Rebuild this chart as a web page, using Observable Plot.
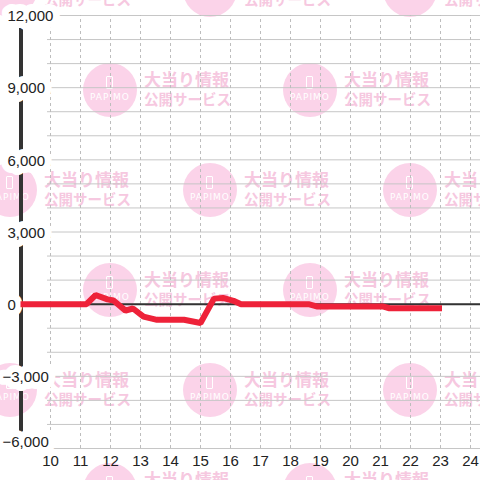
<!DOCTYPE html>
<html>
<head>
<meta charset="utf-8">
<script src="https://cdn.jsdelivr.net/npm/d3@7"></script>
<script src="https://cdn.jsdelivr.net/npm/@observablehq/plot@0.6"></script>
<style>
  html, body { margin: 0; padding: 0; background: #fff; }
  #wrap { position: relative; width: 480px; height: 480px; overflow: hidden; }
  #wm { position: absolute; left: 0; top: 0; width: 480px; height: 480px; }
  #chart { position: absolute; left: 0; top: 0; }
  .wmc { position: absolute; width: 54px; height: 54px; border-radius: 50%; background: #fbd3e9; }
  .wmc .ph { position: absolute; left: 23px; top: 13px; width: 5px; height: 11px; border: 1px solid #fff; border-radius: 1px; }
  .wmc .pm { position: absolute; left: 0; width: 54px; top: 29px; text-align: center; color: #fff;
             font: 9px "DejaVu Sans", sans-serif; letter-spacing: 1px; }
  .wmt { position: absolute; color: #f6c8e0; font-family: "Noto Sans CJK JP", sans-serif; font-weight: bold; white-space: nowrap; }
  .wmt .l1 { font-size: 17px; line-height: 20px; }
  .wmt .l2 { font-size: 14.5px; line-height: 20px; }
</style>
</head>
<body>
<div id="wrap">
  <div id="wm"></div>
  <div id="chart"></div>
</div>
<script>
// ---- data ----
const hours = [9, 11.2, 11.5, 11.9, 12.1, 12.5, 12.75, 13.1, 13.55, 14.45, 15.0, 15.45, 15.75, 16.1, 16.35, 18.6, 18.9, 21.1, 21.3, 23.05];
const diff  = [0, 0, 380, 200, 150, -270, -180, -520, -650, -650, -780, 230, 260, 140, 0, 0, -100, -100, -170, -170];
const xTicks = [10, 11, 12, 13, 14, 15, 16, 17, 18, 19, 20, 21, 22, 23, 24];
const yTicks = [12000, 9000, 6000, 3000, 0, -3000, -6000];
const yGrid = [-6000, -5000, -4000, -3000, -2000, -1000, 0, 1000, 2000, 3000, 4000, 5000, 6000, 7000, 8000, 9000, 10000, 11000, 12000];
const wmLine1 = "大当り情報";
const wmLine2 = "公開サービス";
const wmBrand = "PAPIMO";

// ---- watermark background (decoration) ----
const wm = document.getElementById("wm");
for (let r = 0; r < 6; r++) {
  const cy = -10 + 100 * r;
  const x0 = r % 2 === 0 ? 10 : 110;
  for (let cx = x0; cx < 520; cx += 200) {
    const c = document.createElement("div");
    c.className = "wmc";
    c.style.left = (cx - 27) + "px";
    c.style.top = (cy - 27) + "px";
    c.innerHTML = `<div class="ph"></div><div class="pm">${wmBrand}</div>`;
    wm.appendChild(c);
    const t = document.createElement("div");
    t.className = "wmt";
    t.style.left = (cx + 34) + "px";
    t.style.top = (cy - 21) + "px";
    t.innerHTML = `<div class="l1">${wmLine1}</div><div class="l2">${wmLine2}</div>`;
    wm.appendChild(t);
  }
}

// ---- chart ----
const data = hours.map((h, i) => ({h, v: diff[i]}));
const xMax = 9 + 460 / 30;
const font = "'Liberation Sans', Arial, sans-serif";
const fmt = d3.format(",");

const chart = Plot.plot({
  width: 480,
  height: 480,
  marginTop: 15,
  marginBottom: 32,
  marginLeft: 20,
  marginRight: 0,
  style: {background: "transparent", fontFamily: font},
  x: {domain: [9, xMax], axis: null},
  y: {domain: [-6000, 12000], axis: null},
  marks: [
    Plot.ruleY(yGrid, {x1: 9.9, x2: xMax, stroke: "#c6c6c6", strokeWidth: 1}),
    Plot.ruleX(xTicks, {y1: -6000, y2: 12000, stroke: "#bdbdbd", strokeWidth: 1, strokeDasharray: "3,3"}),
    Plot.ruleY([0], {x1: 9, x2: xMax, stroke: "#333", strokeWidth: 2}),
    Plot.ruleX([9], {y1: -6000, y2: 12000, stroke: "#333", strokeWidth: 4, dx: 0.5}),
    Plot.text(yTicks.filter(d => d >= 0), {
      x: 9, y: d => d, text: d => fmt(d), textAnchor: "start", dx: -13, dy: 1,
      fontSize: 15, fill: "#222", stroke: "white", strokeWidth: 14, fontFamily: font
    }),
    Plot.text(yTicks.filter(d => d < 0 && d > -6000), {
      x: 9, y: d => d, text: d => fmt(d), textAnchor: "start", dx: -18, dy: 1,
      fontSize: 15, fill: "#222", stroke: "white", strokeWidth: 14, fontFamily: font
    }),
    Plot.text(yTicks.filter(d => d <= -6000), {
      x: 9, y: d => d, text: d => fmt(d), textAnchor: "start", dx: -18, dy: -6,
      fontSize: 15, fill: "#222", stroke: "white", strokeWidth: 14, fontFamily: font
    }),
    Plot.line(data, {x: "h", y: "v", stroke: "#ee2239", strokeWidth: 6, strokeLinejoin: "miter", strokeLinecap: "butt"}),
    Plot.text(xTicks, {
      x: d => d, y: -6000, dy: 13, text: d => String(d),
      fontSize: 15, fill: "#222", fontFamily: font
    })
  ]
});
document.getElementById("chart").appendChild(chart);
</script>
</body>
</html>
